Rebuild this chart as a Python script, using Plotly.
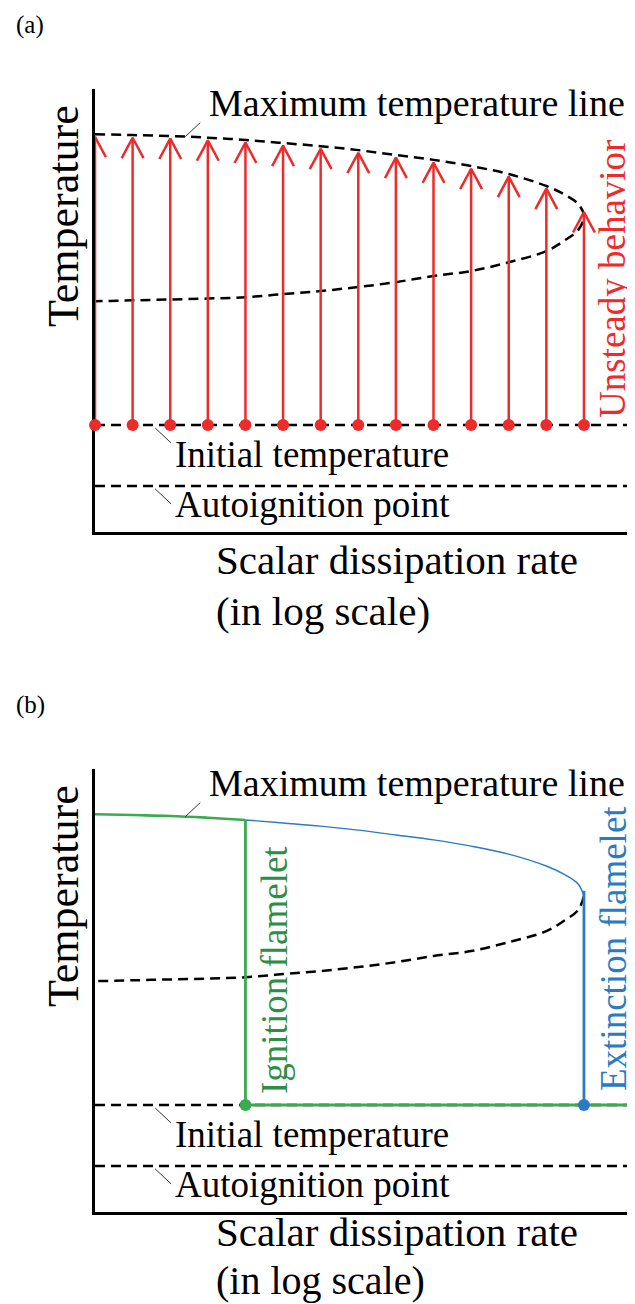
import numpy as np
import plotly.graph_objects as go

W, H = 635, 1304

# ---------------- data (log-scale scalar dissipation rate, normalised temperature) -------------
arrow_chi = [0, 1, 2, 3, 4, 5, 6, 7, 8, 9, 10, 11, 12, 13]
arrow_tip_T = [0.892, 0.890, 0.888, 0.884, 0.879, 0.872, 0.865, 0.856, 0.845,
               0.834, 0.820, 0.802, 0.775, 0.722]
upper_chi = [0, 1, 2, 3, 4, 5, 6, 7, 8, 9, 10, 11, 12, 12.5, 12.85, 13.0]
upper_T = [0.898, 0.896, 0.894, 0.890, 0.885, 0.878, 0.871, 0.862, 0.851, 0.840,
           0.826, 0.808, 0.781, 0.761, 0.740, 0.713]
lower_chi = [13.0, 12.85, 12.5, 12, 11, 10, 9, 8, 7, 6, 5, 4, 3, 2, 1, 0]
lower_T = [0.713, 0.682, 0.659, 0.634, 0.609, 0.589, 0.578, 0.564, 0.553, 0.544,
           0.537, 0.530, 0.527, 0.525, 0.523, 0.521]
T_initial = 0.2415
T_autoign = 0.104
chi_ignition = 4
chi_extinction = 13.0
chi_green_end = 14.2
chi_range = [0, 14.57]
T_range = [0, 1]

# ---------------- styles ----------------
RED = "#EE2B2B"
GREEN = "#3BAA50"
GREEN_TXT = "#2F8E45"
BLUE = "#2B7BC0"
FONT = "Liberation Serif"
DASH = "10px,6px"

fig = go.Figure()


def px_x(p):
    return p / W


def px_y(p):
    return 1 - p / H


panels = [
    dict(xa="x", ya="y", dom=[px_y(524), px_y(81)], off=0),
    dict(xa="x2", ya="y2", dom=[px_y(1204), px_y(761)], off=680),
]

for i, p in enumerate(panels):
    sfx = "" if i == 0 else "2"
    fig.update_layout(**{
        "xaxis" + sfx: dict(domain=[px_x(87), 1], range=chi_range, showline=True,
                            linecolor="black", linewidth=3, showgrid=False, zeroline=False,
                            showticklabels=False, ticks="", layer="below traces",
                            anchor="y" + sfx, fixedrange=True),
        "yaxis" + sfx: dict(domain=p["dom"], range=T_range, showline=True,
                            linecolor="black", linewidth=3, showgrid=False, zeroline=False,
                            showticklabels=False, ticks="", layer="below traces",
                            anchor="x" + sfx, fixedrange=True),
    })


def line(xa, ya, x, y, color="black", width=2.5, dash=None, shape="linear"):
    fig.add_trace(go.Scatter(x=x, y=y, xaxis=xa, yaxis=ya, mode="lines",
                             line=dict(color=color, width=width, dash=dash, shape=shape,
                                       smoothing=1.0),
                             cliponaxis=False, hoverinfo="skip", showlegend=False))


# common horizontal reference lines + S-curve
for i, p in enumerate(panels):
    xa, ya = p["xa"], p["ya"]
    line(xa, ya, chi_range, [T_initial, T_initial], dash=DASH)
    line(xa, ya, chi_range, [T_autoign, T_autoign], dash=DASH)
    if i == 0:
        line(xa, ya, upper_chi + lower_chi[1:], upper_T + lower_T[1:], dash=DASH,
             shape="spline")
    else:
        line(xa, ya, lower_chi, lower_T, dash=DASH, shape="spline")

# ---------- panel (a): unsteady arrows ----------
hw = 0.29   # chevron half-width (chi units)
hh = 0.046  # chevron height (T units)
sx, sy, cx, cy = [], [], [], []
for c, t in zip(arrow_chi, arrow_tip_T):
    sx += [c, c, None]
    sy += [T_initial, t, None]
    cx += [c - hw, c, c + hw, None]
    cy += [t - hh, t, t - hh, None]
line("x", "y", sx, sy, color=RED, width=2.5)
line("x", "y", cx, cy, color=RED, width=2.5)
fig.add_trace(go.Scatter(x=arrow_chi, y=[T_initial] * len(arrow_chi), xaxis="x", yaxis="y",
                         mode="markers", marker=dict(color=RED, size=12),
                         cliponaxis=False, hoverinfo="skip", showlegend=False))

# ---------- panel (b): ignition / extinction flamelets ----------
up_chi = np.array(upper_chi)
up_T = np.array(upper_T)
g_mask = up_chi <= chi_ignition
b_mask = up_chi >= chi_ignition
T_ign_top = float(np.interp(chi_ignition, up_chi, up_T))
line("x2", "y2", list(up_chi[b_mask]), list(up_T[b_mask]), color=BLUE, width=1.4,
     shape="spline")
line("x2", "y2", [chi_extinction, chi_extinction], [T_initial, up_T[-1] + 0.012],
     color=BLUE, width=2.8)
line("x2", "y2", list(up_chi[g_mask]), list(up_T[g_mask]), color=GREEN, width=2.6,
     shape="spline")
line("x2", "y2", [chi_ignition, chi_ignition], [T_initial, T_ign_top], color=GREEN, width=2.8)
line("x2", "y2", [chi_ignition, chi_green_end], [T_initial, T_initial], color=GREEN, width=2.8)
fig.add_trace(go.Scatter(x=[chi_ignition], y=[T_initial], xaxis="x2", yaxis="y2",
                         mode="markers", marker=dict(color=GREEN, size=12),
                         cliponaxis=False, hoverinfo="skip", showlegend=False))
fig.add_trace(go.Scatter(x=[chi_extinction], y=[T_initial], xaxis="x2", yaxis="y2",
                         mode="markers", marker=dict(color=BLUE, size=12),
                         cliponaxis=False, hoverinfo="skip", showlegend=False))

# ---------- leader lines ----------
shapes = []
for p in panels:
    xa, ya = p["xa"], p["ya"]
    lead_chi = 2.4
    shapes.append(dict(type="line", xref=xa, yref=ya, xsizemode="pixel", ysizemode="pixel",
                       xanchor=lead_chi, yanchor=float(np.interp(lead_chi, up_chi, up_T)),
                       x0=0, y0=0, x1=15, y1=14, line=dict(color="#333", width=1)))
    for tv in (T_initial, T_autoign):
        shapes.append(dict(type="line", xref=xa, yref=ya, xsizemode="pixel",
                           ysizemode="pixel", xanchor=1.6, yanchor=tv,
                           x0=0, y0=-3, x1=16, y1=-18, line=dict(color="#333", width=1)))

# ---------- texts ----------
ann = []


def txt(s, x, y, size, color="black", xanchor="left", angle=0):
    ann.append(dict(text=s, x=px_x(x), y=px_y(y), xref="paper", yref="paper",
                    xanchor=xanchor, yanchor="middle", showarrow=False, textangle=angle,
                    font=dict(family=FONT, size=size, color=color)))


for p, tag in zip(panels, ["(a)", "(b)"]):
    o = p["off"]
    txt(tag, 6, 17 + o, 25)
    txt("Maximum temperature line", 199, 95 + o, 38)
    txt("Initial temperature", 165, 446 + o, 37)
    txt("Autoignition point", 165, 496 + o, 37)
    txt("Temperature", 56, 208 + o, 44, xanchor="center", angle=-90)

txt("Scalar dissipation rate", 206, 552, 41)
txt("(in log scale)", 206, 603, 41)
txt("Scalar dissipation rate", 206, 1224, 41)
txt("(in log scale)", 206, 1272, 40)

txt("Unsteady behavior", 605, 271, 37, color=RED, xanchor="center", angle=-90)
txt("Ignition flamelet", 266, 962, 37, color=GREEN_TXT, xanchor="center", angle=-90)
txt("Extinction flamelet", 605, 941, 37, color=BLUE, xanchor="center", angle=-90)

fig.update_layout(width=W, height=H, margin=dict(l=0, r=0, t=0, b=0),
                  paper_bgcolor="white", plot_bgcolor="white", showlegend=False,
                  annotations=ann, shapes=shapes)

fig.write_html("out.html")
